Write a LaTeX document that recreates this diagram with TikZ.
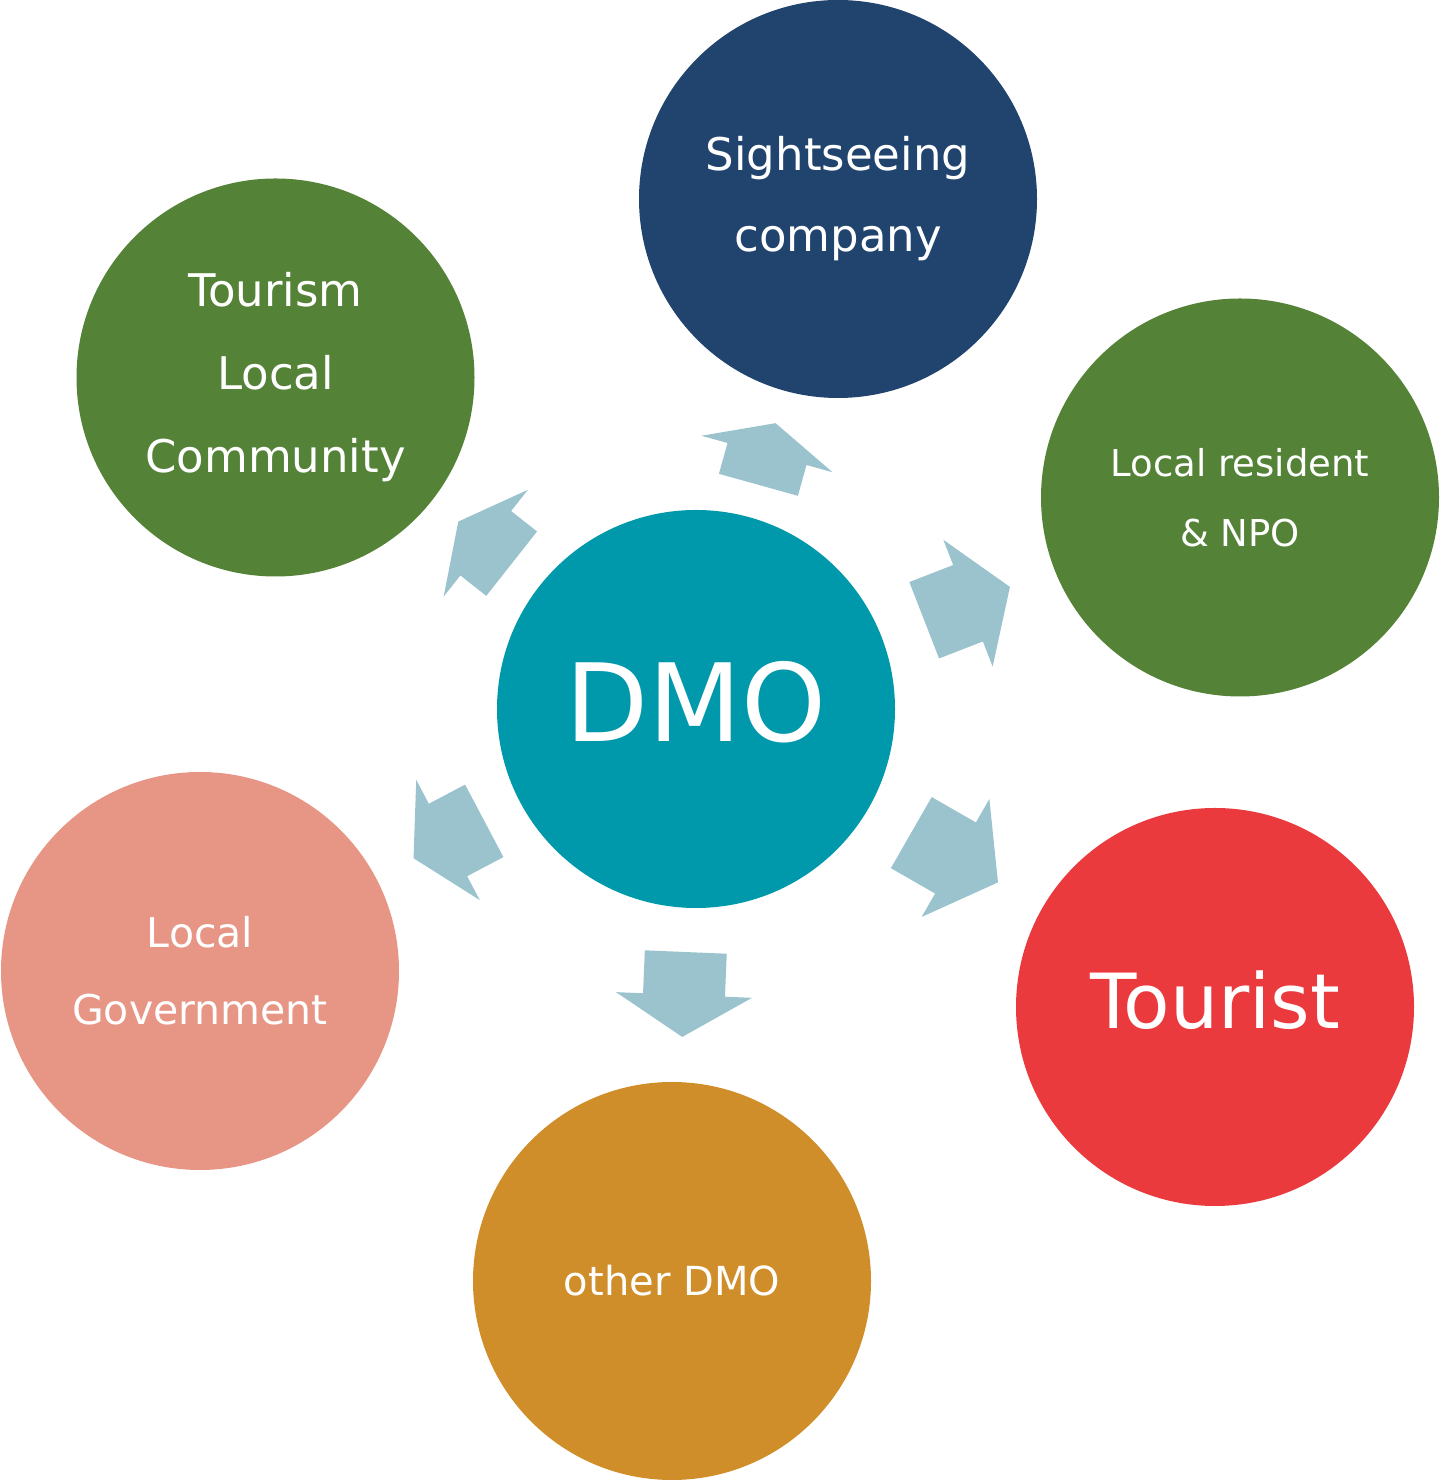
\documentclass[tikz,border=0pt]{standalone}
\usepackage{fontspec}
\setmainfont{DejaVu Sans}
\definecolor{dmoc}{RGB}{0,152,171}
\definecolor{navyc}{RGB}{33,68,110}
\definecolor{greenc}{RGB}{84,130,55}
\definecolor{salmonc}{RGB}{231,149,133}
\definecolor{redc}{RGB}{235,58,62}
\definecolor{orangec}{RGB}{208,142,42}
\definecolor{flowc}{RGB}{155,195,205}
\tikzset{ball/.style={circle,inner sep=0pt,minimum size=199pt,text=white,align=center},
  pics/push/.style 2 args={code={\fill[flowc] (-#1,-41)--(0,-41)--(0,-68)--(#2,0)--(0,68)--(0,41)--(-#1,41)--cycle;}}}
\begin{document}
\begin{tikzpicture}[x=.5pt,y=.5pt]
\useasboundingbox (0,0) rectangle (1440,1482);
\node[ball,fill=dmoc,font=\fontsize{54}{60}\selectfont] (dmo) at (696,773){\raisebox{8pt}{DMO}};
\node[ball,fill=navyc,font=\fontsize{22.5}{40.5}\selectfont] (sight) at (838,1283){Sightseeing\\company};
\node[ball,fill=greenc,font=\fontsize{22.5}{41.5}\selectfont] (tourism) at (275.5,1104.5){Tourism\\Local\\Community};
\node[ball,fill=greenc,font=\fontsize{18.5}{35}\selectfont] (resident) at (1240,984.5){Local resident\\\& NPO};
\node[ball,fill=salmonc,font=\fontsize{20.5}{38.5}\selectfont] (govt) at (200,511){Local\\Government};
\node[ball,fill=redc,font=\fontsize{38}{44}\selectfont] (tourist) at (1215,475){\raisebox{7pt}{Tourist}};
\node[ball,fill=orangec,font=\fontsize{20}{24}\selectfont] (other) at (672,201){other DMO};
% flow arrows, half way between DMO and each partner
\foreach \t/\s/\h in {sight/32/32,tourism/33/35,resident/47/45,tourist/51/49,govt/41/39,other/43/42}
  \path (dmo) -- (\t) pic[pos=.5,sloped,allow upside down]{push={\s}{\h}};
\end{tikzpicture}
\end{document}
